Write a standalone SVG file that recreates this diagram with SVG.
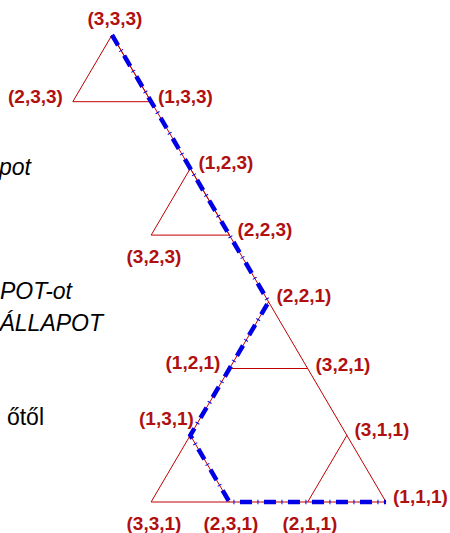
<svg xmlns="http://www.w3.org/2000/svg" width="450" height="533" viewBox="0 0 450 533">
<style>
.e{stroke:#c00000;stroke-width:1;fill:none}
.p{stroke:#0000e6;stroke-width:4.5;fill:none;stroke-dasharray:12 5.5 1 5.5;stroke-linejoin:miter}
.l{font-family:"Liberation Sans",Arial,sans-serif;font-weight:bold;font-size:19px;fill:#b01010;text-anchor:middle}
.t{font-family:"Liberation Sans",Arial,sans-serif;font-size:23px;fill:#000}
</style>
<rect width="450" height="533" fill="#fff"/>
<g id="side-text">
<text class="t" x="31" y="175" text-anchor="end" font-style="italic">pot</text>
<text class="t" x="72" y="299" text-anchor="end" font-style="italic">POT-ot</text>
<text class="t" x="103" y="331" text-anchor="end" font-style="italic">ÁLLAPOT</text>
<text class="t" x="44" y="425" text-anchor="end" font-size="25px">őtől</text>
</g>
<g id="connectors">
<polygon class="e" points="112,35 72.8,101.7 151.1,101.7"/>
<line class="e" x1="112" y1="35" x2="386" y2="502"/>
<polygon class="e" points="190.3,168.4 151.2,235.1 229.4,235.1"/>
<polyline class="e" points="268.6,301.9 151.1,502 386,502"/>
<line class="e" x1="229.4" y1="368.5" x2="307.7" y2="368.5"/>
<line class="e" x1="190.3" y1="435.3" x2="229.4" y2="502"/>
<line class="e" x1="346.9" y1="435.3" x2="307.7" y2="502"/>
<polyline class="p" points="112,35 268.6,301.9 190.3,435.3 229.4,502 386,502"/>
</g>
<g id="n333"><text class="l" x="115" y="25">(3,3,3)</text></g>
<g id="n233"><text class="l" x="35.5" y="103">(2,3,3)</text></g>
<g id="n133"><text class="l" x="185.5" y="103">(1,3,3)</text></g>
<g id="n123"><text class="l" x="226" y="169">(1,2,3)</text></g>
<g id="n323"><text class="l" x="154" y="263">(3,2,3)</text></g>
<g id="n223"><text class="l" x="265" y="236">(2,2,3)</text></g>
<g id="n221"><text class="l" x="304" y="302">(2,2,1)</text></g>
<g id="n121"><text class="l" x="193" y="369">(1,2,1)</text></g>
<g id="n321"><text class="l" x="343" y="371">(3,2,1)</text></g>
<g id="n131"><text class="l" x="166.5" y="425">(1,3,1)</text></g>
<g id="n311"><text class="l" x="382" y="436">(3,1,1)</text></g>
<g id="n331"><text class="l" x="154" y="530">(3,3,1)</text></g>
<g id="n231"><text class="l" x="231" y="530">(2,3,1)</text></g>
<g id="n211"><text class="l" x="310" y="530">(2,1,1)</text></g>
<g id="n111"><text class="l" x="420.5" y="503">(1,1,1)</text></g>
</svg>
